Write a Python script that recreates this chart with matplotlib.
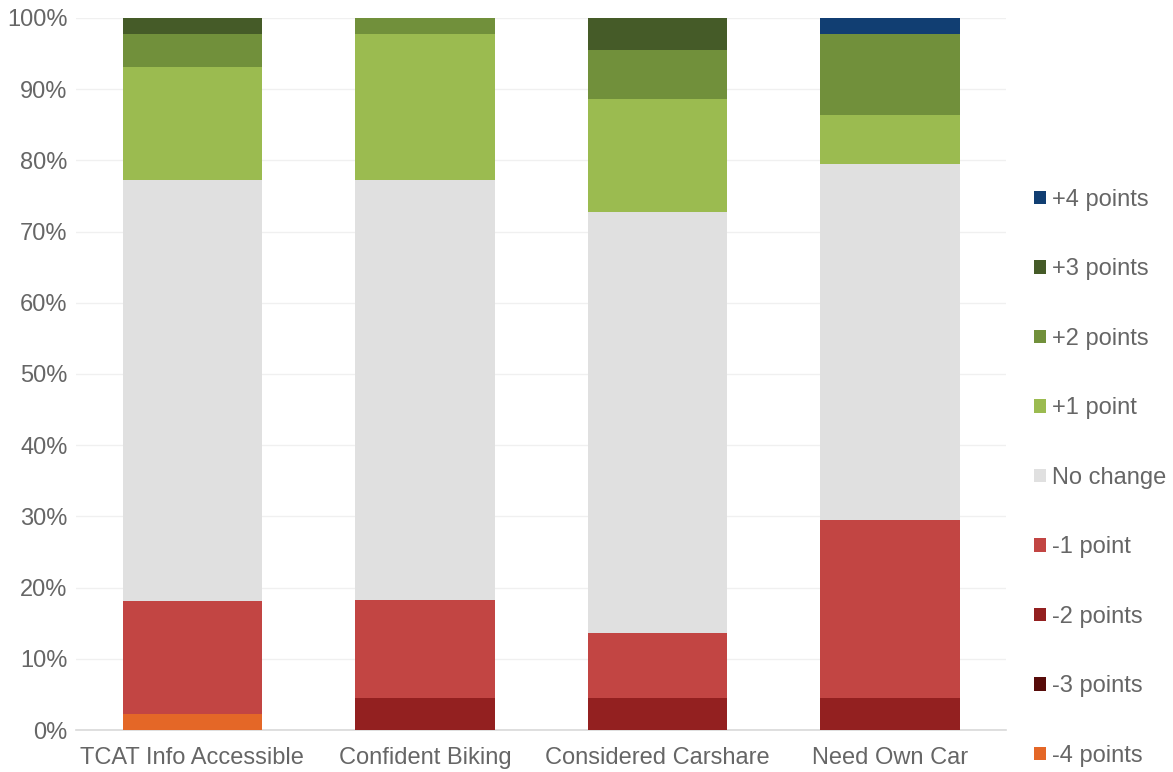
import matplotlib.pyplot as plt
import numpy as np
from matplotlib.ticker import PercentFormatter

plt.rcParams['font.family'] = ['Liberation Sans', 'DejaVu Sans']

categories = ['TCAT Info Accessible', 'Confident Biking', 'Considered Carshare', 'Need Own Car']
levels = ['-4 points', '-3 points', '-2 points', '-1 point', 'No change',
          '+1 point', '+2 points', '+3 points', '+4 points']
colors = ['#E46727', '#570C0A', '#932020', '#C24543', '#E0E0E0',
          '#9BBB50', '#71903B', '#455B28', '#113E72']

# share of respondents (%) per level, bottom to top
minus4 = [2.27, 0, 0, 0]
minus3 = [0, 0, 0, 0]
minus2 = [0, 4.55, 4.55, 4.55]
minus1 = [15.91, 13.64, 9.09, 25.0]
nochange = [59.09, 59.09, 59.09, 50.0]
plus1 = [15.91, 20.45, 15.91, 6.82]
plus2 = [4.55, 2.27, 6.82, 11.36]
plus3 = [2.27, 0, 4.55, 0]
plus4 = [0, 0, 0, 2.27]

series = [minus4, minus3, minus2, minus1, nochange, plus1, plus2, plus3, plus4]

fig = plt.figure(figsize=(11.73, 7.72), dpi=100)
ax = fig.add_axes([0.0648, 0.0544, 0.793, 0.9223])

x = np.arange(len(categories))
bottom = np.zeros(len(categories))
for vals, lab, col in zip(series, levels, colors):
    ax.bar(x, vals, 0.6, bottom=bottom, color=col, label=lab, zorder=3)
    bottom += np.array(vals)

ax.set_ylim(0, 100)
ax.set_xlim(-0.5, len(categories) - 0.5)
ax.set_yticks(np.arange(0, 101, 10))
ax.yaxis.set_major_formatter(PercentFormatter(decimals=0))
ax.set_xticks(x)
ax.set_xticklabels(categories)
ax.grid(axis='y', color='#F0F0F0', linewidth=1, zorder=0)
for s in ['top', 'right', 'left']:
    ax.spines[s].set_visible(False)
ax.spines['bottom'].set_color('#D9D9D9')
ax.spines['bottom'].set_linewidth(1.2)
ax.tick_params(axis='both', length=0, labelsize=17, labelcolor='#666666')
ax.tick_params(axis='x', pad=12)
ax.tick_params(axis='y', pad=6)

handles, labels = ax.get_legend_handles_labels()
leg = fig.legend(handles[::-1], labels[::-1], loc='center left',
                 bbox_to_anchor=(0.8815, 0.381), frameon=False, fontsize=17,
                 labelspacing=2.01, handlelength=0.5, handleheight=0.5,
                 handletextpad=0.25, borderpad=0, borderaxespad=0)
for t in leg.get_texts():
    t.set_color('#666666')

fig.savefig('out.png', dpi=100)
